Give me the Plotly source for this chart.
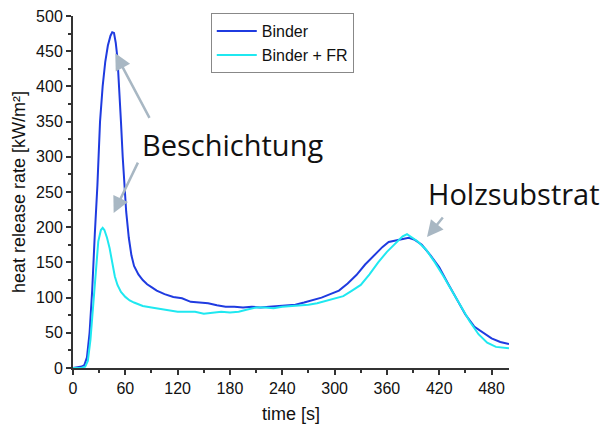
import plotly.graph_objects as go

# ---- data ----
t_binder = [0, 5, 10, 13, 16, 19, 22, 25, 28, 31, 34, 37, 40, 43, 45, 47, 49, 51, 53, 55, 57, 59, 61,
            64, 67, 70, 75, 80, 85, 90, 96, 105, 115, 125, 135, 145, 155, 165, 175, 185, 195, 205,
            215, 225, 235, 245, 255, 265, 275, 285, 295, 305, 315, 325, 335, 345, 355, 362, 370,
            378, 385, 392, 400, 410, 420, 430, 440, 450, 460, 470, 480, 490, 500]
hrr_binder = [0, 1, 2, 4, 15, 50, 110, 190, 260, 350, 400, 435, 458, 472, 477, 476, 462, 440, 400, 350,
              300, 255, 222, 185, 160, 145, 133, 125, 119, 115, 110, 105, 101, 99, 94, 93, 92, 89, 87,
              87, 86, 87, 86, 87, 88, 88, 90, 93, 96, 100, 105, 110, 120, 132, 147, 160, 172, 179,
              181, 184, 185, 182, 175, 160, 143, 120, 97, 76, 59, 50, 42, 37, 34]

t_fr = [0, 10, 14, 17, 20, 23, 26, 29, 32, 34, 36, 39, 42, 45, 48, 51, 55, 60, 65, 70, 80, 90, 100,
        110, 120, 130, 140, 150, 160, 170, 180, 190, 200, 210, 220, 230, 240, 250, 260, 270, 280,
        290, 300, 310, 320, 330, 340, 350, 360, 370, 378, 383, 388, 395, 405, 415, 425, 435, 445,
        455, 465, 475, 485, 495, 500]
hrr_fr = [0, 0.5, 2, 10, 40, 90, 140, 180, 196, 199, 196, 185, 170, 150, 130, 118, 108, 101, 96, 93,
          88, 86, 84, 82, 80, 80, 80, 77, 79, 80, 79, 80, 83, 86, 86, 85, 87, 88, 88, 90, 92, 95,
          98, 102, 110, 118, 133, 150, 165, 177, 187, 190, 186, 180, 168, 150, 130, 108, 87, 66,
          48, 36, 30, 28, 28]

series_names = ["Binder", "Binder + FR"]
x_ticks = [0, 60, 120, 180, 240, 300, 360, 420, 480]
y_ticks = [0, 50, 100, 150, 200, 250, 300, 350, 400, 450, 500]

BLUE = "#1f3be0"
CYAN = "#1fe8f0"
ARROW = "#a8b7c3"
AX = "#333333"

fig = go.Figure()
fig.add_trace(go.Scatter(x=t_binder, y=hrr_binder, mode="lines", name=series_names[0],
                         line=dict(color=BLUE, width=2)))
fig.add_trace(go.Scatter(x=t_fr, y=hrr_fr, mode="lines", name=series_names[1],
                         line=dict(color=CYAN, width=2)))

axis_font = dict(family="Arial, Liberation Sans", size=16, color="#111111")
title_font = dict(family="Arial, Liberation Sans", size=18, color="#111111")

fig.update_xaxes(range=[0, 500], tickvals=x_ticks, ticks="outside", ticklen=5, tickwidth=1.5,
                 tickcolor=AX, showline=True, linecolor=AX, linewidth=2, showgrid=False,
                 zeroline=False, tickfont=axis_font, automargin=False,
                 minor=dict(dtick=30, tick0=0, ticks="outside", ticklen=3, tickcolor=AX, showgrid=False),
                 title=dict(text="time [s]", font=title_font, standoff=11))
fig.update_yaxes(range=[0, 500], tickvals=y_ticks, ticks="outside", ticklen=5, tickwidth=1.5,
                 tickcolor=AX, showline=True, linecolor=AX, linewidth=2, showgrid=False,
                 zeroline=False, tickfont=axis_font, automargin=False,
                 minor=dict(dtick=25, tick0=0, ticks="outside", ticklen=3, tickcolor=AX, showgrid=False),
                 title=dict(text="heat release rate [kW/m²]", font=title_font, standoff=6))

# text labels
text_font = dict(family="Open Sans, Noto Sans", size=29, color="#111111")
fig.add_annotation(xref="paper", yref="paper", x=0.366, y=0.634, text="Beschichtung",
                   showarrow=False, font=text_font, xanchor="center", yanchor="middle")
fig.add_annotation(xref="paper", yref="paper", x=1.012, y=0.495, text="Holzsubstrat",
                   showarrow=False, font=text_font, xanchor="center", yanchor="middle")

# arrows (head at data point, tail offset in px)
for hx, hy, ax, ay in [(48.5, 447, 35, 66), (46.6, 220, 25, -52), (406, 186, 17, -21)]:
    fig.add_annotation(x=hx, y=hy, xref="x", yref="y", text="", showarrow=True,
                       ax=ax, ay=ay, arrowhead=2, arrowsize=1.3, arrowwidth=2.5,
                       arrowcolor=ARROW, standoff=0)

fig.update_layout(
    width=606, height=425,
    margin=dict(l=73, r=97, t=16, b=57),
    paper_bgcolor="white", plot_bgcolor="white",
    showlegend=True,
    legend=dict(x=0.316, y=1.008, xanchor="left", yanchor="top",
                bordercolor="#888888", borderwidth=1, bgcolor="white",
                font=dict(family="Arial, Liberation Sans", size=16, color="#111111"),
                tracegroupgap=0, itemwidth=40),
)

fig.write_html("out.html")
